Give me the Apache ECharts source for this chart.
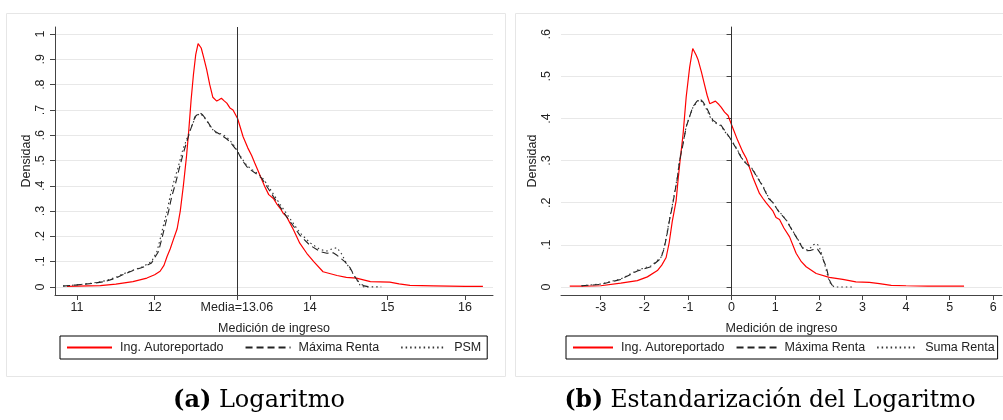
<!DOCTYPE html>
<html>
<head>
<meta charset="utf-8">
<script src="https://cdn.jsdelivr.net/npm/echarts@6/dist/echarts.min.js"></script>
<style>
  html, body { margin: 0; padding: 0; background: #fff; }
  #chart { width: 1003px; height: 420px; }
</style>
</head>
<body>
<div id="chart"></div>
<script>
// (a) Logaritmo
const logAuto = [[10.87,0.002],[11.0,0.003],[11.3,0.005],[11.5,0.011],[11.72,0.021],[11.9,0.035],[12.0,0.048],[12.07,0.062],[12.12,0.085],[12.16,0.12],[12.2,0.15],[12.24,0.186],[12.29,0.23],[12.33,0.30],[12.37,0.40],[12.41,0.515],[12.44,0.62],[12.47,0.74],[12.5,0.84],[12.53,0.92],[12.56,0.962],[12.6,0.945],[12.63,0.91],[12.67,0.86],[12.71,0.8],[12.75,0.75],[12.8,0.735],[12.83,0.74],[12.86,0.746],[12.9,0.735],[12.93,0.727],[12.97,0.708],[13.01,0.70],[13.07,0.665],[13.14,0.594],[13.2,0.55],[13.25,0.52],[13.29,0.49],[13.36,0.44],[13.42,0.396],[13.47,0.365],[13.53,0.35],[13.58,0.325],[13.62,0.31],[13.66,0.29],[13.70,0.278],[13.79,0.225],[13.87,0.173],[13.96,0.133],[14.05,0.10],[14.17,0.06],[14.35,0.045],[14.47,0.038],[14.6,0.035],[14.78,0.021],[15.03,0.019],[15.15,0.012],[15.29,0.006],[15.59,0.004],[16.0,0.002],[16.23,0.002]];
const logMax = [[10.82,0.003],[11.0,0.008],[11.2,0.014],[11.36,0.021],[11.5,0.035],[11.58,0.047],[11.75,0.068],[11.85,0.078],[11.96,0.095],[12.05,0.14],[12.1,0.2],[12.13,0.238],[12.18,0.30],[12.22,0.357],[12.27,0.41],[12.31,0.46],[12.37,0.53],[12.42,0.58],[12.46,0.62],[12.52,0.673],[12.58,0.69],[12.62,0.68],[12.67,0.66],[12.72,0.635],[12.78,0.615],[12.86,0.60],[12.93,0.585],[12.97,0.574],[13.02,0.555],[13.07,0.535],[13.13,0.50],[13.19,0.475],[13.25,0.46],[13.32,0.445],[13.38,0.43],[13.44,0.40],[13.53,0.357],[13.62,0.315],[13.70,0.278],[13.79,0.24],[13.87,0.205],[14.0,0.165],[14.13,0.14],[14.22,0.133],[14.3,0.135],[14.35,0.125],[14.45,0.10],[14.52,0.075],[14.58,0.04],[14.64,0.015],[14.7,0.004],[14.75,0.001]];
const logPSM = [[10.82,0.004],[11.0,0.008],[11.2,0.015],[11.36,0.024],[11.5,0.038],[11.58,0.05],[11.75,0.07],[11.85,0.08],[11.96,0.1],[12.03,0.14],[12.08,0.2],[12.11,0.24],[12.16,0.30],[12.2,0.36],[12.25,0.42],[12.3,0.47],[12.36,0.54],[12.42,0.59],[12.47,0.63],[12.53,0.675],[12.58,0.685],[12.63,0.675],[12.68,0.652],[12.73,0.628],[12.79,0.61],[12.86,0.605],[12.92,0.595],[12.97,0.58],[13.02,0.56],[13.07,0.535],[13.13,0.505],[13.19,0.48],[13.25,0.465],[13.32,0.45],[13.38,0.435],[13.44,0.41],[13.53,0.367],[13.62,0.325],[13.70,0.29],[13.79,0.25],[13.87,0.215],[14.0,0.175],[14.13,0.148],[14.22,0.142],[14.3,0.152],[14.35,0.155],[14.41,0.13],[14.47,0.094],[14.53,0.065],[14.58,0.04],[14.65,0.005],[14.7,0.0],[14.92,0.0]];
const logMedia = 13.06;
const logXTicks = [11, 12, 13.06, 14, 15, 16];
const logYTicks = [0, 0.1, 0.2, 0.3, 0.4, 0.5, 0.6, 0.7, 0.8, 0.9, 1];

// (b) Estandarizacion del Logaritmo
const stdAuto = [[-3.71,0.002],[-3.4,0.002],[-3.0,0.003],[-2.54,0.009],[-2.16,0.015],[-1.93,0.024],[-1.70,0.039],[-1.6,0.052],[-1.5,0.07],[-1.43,0.105],[-1.36,0.155],[-1.27,0.205],[-1.23,0.25],[-1.19,0.29],[-1.11,0.364],[-1.04,0.451],[-0.96,0.522],[-0.89,0.566],[-0.85,0.563],[-0.81,0.55],[-0.77,0.54],[-0.69,0.51],[-0.62,0.48],[-0.56,0.455],[-0.5,0.435],[-0.46,0.431],[-0.37,0.441],[-0.29,0.433],[-0.24,0.427],[-0.16,0.415],[-0.08,0.407],[0.0,0.385],[0.14,0.348],[0.26,0.32],[0.34,0.305],[0.49,0.26],[0.64,0.222],[0.72,0.21],[0.79,0.2],[0.95,0.18],[1.02,0.165],[1.10,0.16],[1.2,0.14],[1.33,0.119],[1.48,0.080],[1.6,0.06],[1.71,0.048],[1.94,0.032],[2.24,0.023],[2.55,0.018],[2.85,0.012],[3.16,0.011],[3.39,0.008],[3.66,0.004],[4.0,0.003],[4.5,0.002],[5.33,0.002]];
const stdMax = [[-3.44,0.003],[-3.0,0.006],[-2.54,0.018],[-2.16,0.038],[-1.85,0.048],[-1.62,0.068],[-1.55,0.09],[-1.49,0.119],[-1.42,0.16],[-1.36,0.19],[-1.30,0.225],[-1.24,0.26],[-1.19,0.301],[-1.11,0.34],[-1.04,0.38],[-0.96,0.405],[-0.89,0.427],[-0.80,0.44],[-0.73,0.447],[-0.66,0.44],[-0.58,0.427],[-0.50,0.41],[-0.43,0.396],[-0.35,0.39],[-0.24,0.384],[-0.15,0.37],[-0.05,0.356],[0.1,0.33],[0.26,0.30],[0.37,0.29],[0.49,0.277],[0.6,0.258],[0.72,0.238],[0.85,0.21],[0.95,0.2],[1.06,0.182],[1.25,0.159],[1.48,0.119],[1.63,0.092],[1.72,0.086],[1.82,0.087],[1.9,0.09],[1.97,0.09],[2.05,0.078],[2.12,0.06],[2.17,0.048],[2.24,0.017],[2.3,0.005],[2.35,0.001]];
const stdSuma = [[-3.44,0.003],[-3.0,0.007],[-2.54,0.019],[-2.16,0.04],[-1.85,0.05],[-1.62,0.07],[-1.55,0.092],[-1.49,0.122],[-1.42,0.163],[-1.36,0.193],[-1.30,0.228],[-1.24,0.263],[-1.19,0.303],[-1.11,0.342],[-1.04,0.381],[-0.96,0.405],[-0.89,0.425],[-0.80,0.438],[-0.73,0.445],[-0.66,0.437],[-0.58,0.423],[-0.50,0.405],[-0.43,0.393],[-0.35,0.388],[-0.24,0.382],[-0.15,0.368],[-0.05,0.355],[0.1,0.332],[0.26,0.302],[0.37,0.292],[0.49,0.279],[0.6,0.26],[0.72,0.24],[0.85,0.212],[0.95,0.2],[1.06,0.183],[1.25,0.16],[1.48,0.12],[1.63,0.094],[1.72,0.088],[1.8,0.092],[1.88,0.1],[1.94,0.103],[2.0,0.098],[2.08,0.075],[2.17,0.04],[2.24,0.012],[2.35,0.0],[2.8,0.0]];
const stdMedia = 0;
const stdXTicks = [-3, -2, -1, 0, 1, 2, 3, 4, 5, 6];
const stdYTicks = [0, 0.1, 0.2, 0.3, 0.4, 0.5, 0.6];

const chart = echarts.init(document.getElementById('chart'));

const font = 'Liberation Sans, Arial, sans-serif';
const capFont = 'DejaVu Serif, serif';
const axisCol = '#444';

function yFmt(v) {
    if (v === 0) return '0';
    if (Number.isInteger(v)) return String(v);
    return v.toFixed(1).slice(1);
}

function yAxisOf(idx, min, max, ticks, gap) {
    return {
        type: 'value', gridIndex: idx, min: min, max: max,
        name: 'Densidad', nameLocation: 'middle', nameGap: gap, nameRotate: 90,
        nameTextStyle: { fontFamily: font, fontSize: 12.5, color: '#222' },
        axisLine: { show: true, lineStyle: { color: axisCol, width: 1 } },
        axisTick: { show: true, length: 5, customValues: ticks, lineStyle: { color: axisCol } },
        axisLabel: { customValues: ticks, rotate: 90, margin: 8, formatter: yFmt,
            fontFamily: font, fontSize: 12.5, color: '#222' },
        splitLine: { show: true, lineStyle: { color: '#e8e8e8', width: 1 } }
    };
}

function xAxisOf(idx, min, max, ticks, fmt) {
    return {
        type: 'value', gridIndex: idx, min: min, max: max,
        name: 'Medición de ingreso', nameLocation: 'middle', nameGap: 27,
        nameTextStyle: { fontFamily: font, fontSize: 12.5, color: '#222' },
        axisLine: { show: true, onZero: false, lineStyle: { color: axisCol, width: 1 } },
        axisTick: { show: true, length: 5, customValues: ticks, lineStyle: { color: axisCol } },
        axisLabel: { customValues: ticks, margin: 6, formatter: fmt,
            fontFamily: font, fontSize: 12.5, color: '#222' },
        splitLine: { show: false }
    };
}

function medLine(v) {
    return {
        silent: true, symbol: 'none', label: { show: false },
        lineStyle: { color: '#333', width: 1, type: 'solid' },
        data: [{ xAxis: v }]
    };
}

const redStyle = { color: '#ff0000', width: 1.2, type: 'solid' };
const dashStyle = { color: '#222', width: 1.1, type: [7, 4] };
const dotStyle = { color: '#333', width: 1.1, type: [1.5, 3] };

function line(name, data, idx, style, mark) {
    const s = {
        name: name, type: 'line', data: data, xAxisIndex: idx, yAxisIndex: idx,
        symbol: 'none', showSymbol: false, lineStyle: style, itemStyle: { color: style.color },
        z: 3
    };
    if (mark !== undefined) s.markLine = medLine(mark);
    return s;
}

function legendOf(left, names, pad, gap, w) {
    return {
        left: left, top: 336, orient: 'horizontal',
        data: names, itemWidth: w, itemHeight: 12, itemGap: gap,
        padding: pad, borderColor: '#000', borderWidth: 1, borderRadius: 0,
        selectedMode: false,
        itemStyle: { opacity: 0 },
        textStyle: { fontFamily: font, fontSize: 12.5, color: '#222', padding: [0, 0, 0, 3] }
    };
}

chart.setOption({
    animation: false,
    backgroundColor: '#fff',
    grid: [
        { left: 55, top: 27, width: 438, height: 268 },
        { left: 561, top: 27, width: 441, height: 268 }
    ],
    xAxis: [
        xAxisOf(0, 10.716, 16.36, logXTicks, v => v === logMedia ? 'Media=' + logMedia : String(v)),
        xAxisOf(1, -3.91, 6.2, stdXTicks, v => String(v))
    ],
    yAxis: [
        yAxisOf(0, -0.032, 1.028, logYTicks, 20),
        yAxisOf(1, -0.019, 0.617, stdYTicks, 19)
    ],
    legend: [
        legendOf(60, ['Ing. Autoreportado', 'Máxima Renta', 'PSM'], [5, 6, 5, 6], 21, 45),
        legendOf(566, ['Ing. Autoreportado', 'Máxima Renta', 'Suma Renta'], [5, 3, 5, 6], 11, 40)
    ],
    series: [
        line('Ing. Autoreportado', logAuto, 0, redStyle, logMedia),
        line('Máxima Renta', logMax, 0, dashStyle),
        line('PSM', logPSM, 0, dotStyle),
        line('Ing. Autoreportado', stdAuto, 1, redStyle, stdMedia),
        line('Máxima Renta', stdMax, 1, dashStyle),
        line('Suma Renta', stdSuma, 1, dotStyle)
    ],
    graphic: [
        { type: 'rect', silent: true, z: -1, shape: { x: 6.5, y: 13.5, width: 499, height: 363 },
          style: { fill: 'none', stroke: '#e6e6e6', lineWidth: 1 } },
        { type: 'rect', silent: true, z: -1, shape: { x: 515.5, y: 13.5, width: 492, height: 363 },
          style: { fill: 'none', stroke: '#e6e6e6', lineWidth: 1 } },
        { type: 'text', x: 259, y: 401, silent: true,
          style: { text: '{b|(a)} Logaritmo', align: 'center', verticalAlign: 'middle',
                   fontFamily: capFont, fontSize: 24, fill: '#000',
                   rich: { b: { fontWeight: 'bold', fontFamily: capFont, fontSize: 24 } } } },
        { type: 'text', x: 770, y: 401, silent: true,
          style: { text: '{b|(b)} Estandarización del Logaritmo', align: 'center', verticalAlign: 'middle',
                   fontFamily: capFont, fontSize: 23.4, fill: '#000',
                   rich: { b: { fontWeight: 'bold', fontFamily: capFont, fontSize: 23.4 } } } }
    ]
});
</script>
</body>
</html>
